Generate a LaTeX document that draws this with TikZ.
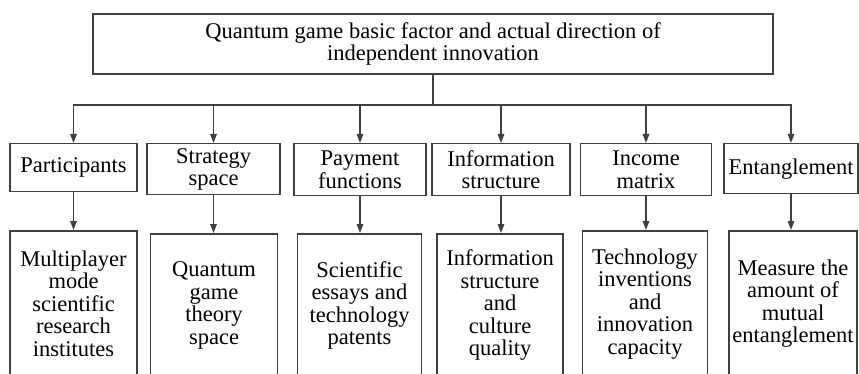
\documentclass[tikz,border=0pt]{standalone}
\usepackage{fontspec}
\setmainfont{Liberation Serif}
\usetikzlibrary{arrows.meta}

\begin{document}
\begin{tikzpicture}[x=1pt,y=-1pt,
  box/.style={draw=black!75,line width=1.5pt,align=center,inner sep=1pt,
    font=\fontsize{22.5}{22.5}\selectfont},
  link/.style={draw=black!75,line width=1.5pt},
  arr/.style={link,-{Triangle[length=9pt,width=6.5pt]}}]
\useasboundingbox (0,0) rectangle (859,374);

% top box
\node[box,minimum width=680pt,minimum height=60pt] (goal) at (433,44)
  {Quantum game basic factor and actual direction of\\independent innovation};
\coordinate (bus) at (433,105);

% factors
\node[box,anchor=north,minimum width=127pt,minimum height=48pt] (part) at (73.5,143) {Participants};
\node[box,anchor=north,minimum width=133pt,minimum height=51pt] (strat) at (213.5,143) {Strategy\\space};
\node[box,anchor=north,minimum width=132pt,minimum height=52pt] (pay) at (360,143) {Payment\\functions};
\node[box,anchor=north,minimum width=138pt,minimum height=52pt] (info) at (501,143) {Information\\structure};
\node[box,anchor=north,minimum width=131pt,minimum height=52pt] (inc) at (646,143) {Income\\matrix};
\node[box,anchor=north,minimum width=134pt,minimum height=50pt] (ent) at (791,143) {Entanglement};

% directions
\node[box,anchor=north,minimum width=127pt,minimum height=146pt] (partd) at (73.5,230)
  {Multiplayer\\mode\\scientific\\research\\institutes};
\node[box,anchor=north,minimum width=127pt,minimum height=143pt] (stratd) at (214,233)
  {Quantum\\game\\theory\\space};
\node[box,anchor=north,minimum width=124pt,minimum height=143pt] (payd) at (359.5,233)
  {Scientific\\essays and\\technology\\patents};
\node[box,anchor=north,minimum width=126pt,minimum height=143pt] (infod) at (500,233)
  {Information\\structure\\and\\culture\\quality};
\node[box,anchor=north,minimum width=125pt,minimum height=146pt] (incd) at (645,230)
  {Technology\\inventions\\and\\innovation\\capacity};
\node[box,anchor=north,minimum width=128pt,minimum height=146pt] (entd) at (793,230)
  {Measure the\\amount of\\mutual\\entanglement};

\draw[link] (goal.south) -- (bus);
\foreach \n in {part,strat,pay,info,inc,ent}
  \draw[arr] (bus) -| (\n.north);
\foreach \n in {part,strat,pay,info,inc,ent}
  \draw[arr] (\n.south) -- (\n.south |- \n d.north);
\end{tikzpicture}
\end{document}
